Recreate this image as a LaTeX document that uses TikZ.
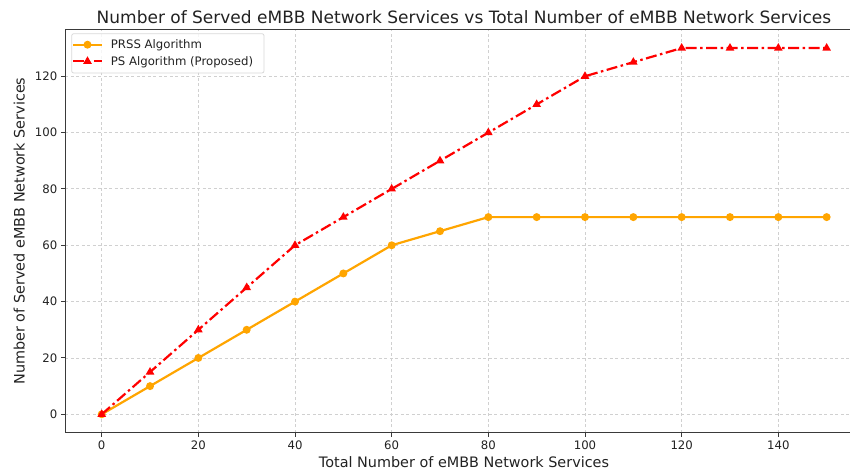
\documentclass[tikz,border=0pt]{standalone}
\usepackage{fontspec}
\setmainfont{DejaVu Sans}
\usetikzlibrary{shapes.geometric,calc}
\definecolor{mplorange}{HTML}{FFA500}
\definecolor{mplred}{HTML}{FF0000}
\definecolor{gridgray}{HTML}{D0D0D0}
\definecolor{spinegray}{HTML}{3A3A3A}
\definecolor{textgray}{HTML}{222222}
\begin{document}
\begin{tikzpicture}[x=1pt,y=1pt,
  gridline/.style={draw=gridgray, line width=0.9pt, dash pattern=on 3pt off 2.5pt},
  spine/.style={draw=spinegray, line width=1.2pt},
  tickmark/.style={draw=spinegray, line width=1pt},
  ticklabel/.style={font=\fontsize{11.7}{14}\selectfont, text=textgray, inner sep=0pt},
  axislabel/.style={font=\fontsize{14.4}{17}\selectfont, text=textgray, inner sep=0pt},
  titlelabel/.style={font=\fontsize{17}{20}\selectfont, text=textgray, inner sep=0pt},
  prssline/.style={draw=mplorange, line width=2.2pt, line join=round},
  psline/.style={draw=mplred, line width=2.2pt, dash pattern=on 11pt off 3.5pt on 2.5pt off 3.5pt},
  prssmark/.style={circle, fill=mplorange, inner sep=0pt, minimum size=8pt},
  psmark/.style={regular polygon, regular polygon sides=3, fill=mplred, inner sep=0pt, minimum size=10pt},
  legendtext/.style={font=\fontsize{11.7}{14}\selectfont, text=textgray, inner sep=0pt, anchor=base west},
  legendbox/.style={draw=black!15, fill=white, fill opacity=0.8, rounded corners=2pt, line width=0.8pt}
]
\clip (0,0) rectangle (850,470);
\fill[white] (0,0) rectangle (850,470);

\begin{scope}[xshift=101.7pt, yshift=55.7pt, x=4.833pt, y=2.817pt]
  % grid
  \foreach \gx in {0,20,...,140} \draw[gridline] (\gx,-6.5) -- (\gx,136.5);
  \foreach \gy in {0,20,...,120} \draw[gridline] (-7.5,\gy) -- (157.5,\gy);
  % spines
  \draw[spine] (157.5,-6.5) -- (-7.5,-6.5) -- (-7.5,136.5) -- (157.5,136.5);
  % x ticks
  \foreach \gx in {0,20,...,140} {
    \draw[tickmark] (\gx,-6.5) -- ++(0,-4pt);
    \node[ticklabel, anchor=base, name=xt\gx] at ([yshift=-16.7pt]\gx,-6.5) {\gx};
  }
  % y ticks
  \foreach \gy in {0,20,...,120} {
    \draw[tickmark] (-7.5,\gy) -- ++(-4pt,0);
    \node[ticklabel, anchor=base east, name=yt\gy] at ([xshift=-8pt,yshift=-4.3pt]-7.5,\gy) {\gy};
  }
  % PRSS data
  \foreach \dx/\dy [count=\i from 0] in {0/0,10/10,20/20,30/30,40/40,50/50,60/60,70/65,80/70,90/70,100/70,110/70,120/70,130/70,140/70,150/70}
    \coordinate (p\i) at (\dx,\dy);
  \draw[prssline] (p0) \foreach \i in {1,...,15} { -- (p\i) };
  \foreach \i in {0,...,15} \node[prssmark, name=pm\i] at (p\i) {};
  % PS data
  \foreach \dx/\dy [count=\i from 0] in {0/0,10/15,20/30,30/45,40/60,50/70,60/80,70/90,80/100,90/110,100/120,110/125,120/130,130/130,140/130,150/130}
    \coordinate (q\i) at (\dx,\dy);
  \draw[psline] (q0) \foreach \i in {1,...,15} { -- (q\i) };
  \foreach \i in {0,...,15} \node[psmark, name=qm\i] at (q\i) {};
\end{scope}

% legend
\draw[legendbox] (71.7,397) rectangle (264,436.3);
\coordinate (la1) at (73.3,425.3);
\coordinate (lb1) at (101.7,425.3);
\coordinate (la2) at (73.3,408.7);
\coordinate (lb2) at (101.7,408.7);
\draw[prssline] (la1) -- (lb1);
\node[prssmark, name=lm1] at ($(la1)!0.5!(lb1)$) {};
\draw[psline] (la2) -- (lb2);
\node[psmark, name=lm2] at ($(la2)!0.5!(lb2)$) {};
\node[legendtext, name=lt1] at (110.7,421.0) {PRSS Algorithm};
\node[legendtext, name=lt2] at (110.7,404.4) {PS Algorithm (Proposed)};

% labels
\node[titlelabel, anchor=base, name=title] at (464,446.2) {Number of Served eMBB Network Services vs Total Number of eMBB Network Services};
\node[axislabel, anchor=base, name=xlabel] at (464,2.3) {Total Number of eMBB Network Services};
\node[axislabel, anchor=base, rotate=90, name=ylabel] at (24.5,239) {Number of Served eMBB Network Services};
\end{tikzpicture}
\end{document}
